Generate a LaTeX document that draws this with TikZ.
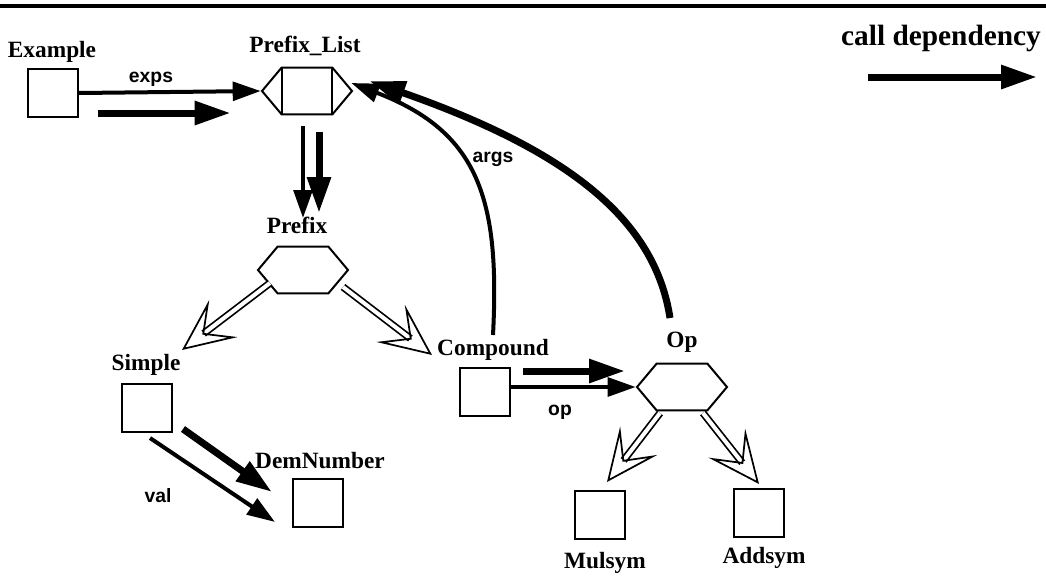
\documentclass[tikz,border=0pt]{standalone}
\usepackage{fontspec}
\setmainfont{Liberation Serif}
\setsansfont{Liberation Sans}
\usetikzlibrary{shapes.symbols,arrows.meta,positioning}

\begin{document}
\begin{tikzpicture}[
    x=0.75pt, y=-0.75pt,
    box/.style={rectangle, draw, line width=1.5pt, minimum width=37pt, minimum height=36pt, inner sep=0pt},
    hexa/.style={signal, signal to=west and east, signal pointer angle=100, draw, line width=1.5pt, minimum width=67.5pt, minimum height=35pt, inner sep=0pt},
    plistbox/.style={hexa, path picture={
        \draw[line width=1.5pt] ([xshift=15pt]path picture bounding box.north west) -- ([xshift=15pt]path picture bounding box.south west)
                                ([xshift=-15pt]path picture bounding box.north east) -- ([xshift=-15pt]path picture bounding box.south east);}},
    unitname/.style={font=\fontsize{17.5}{20}\selectfont\bfseries, anchor=base, inner sep=0pt},
    role/.style={font=\sffamily\bfseries\fontsize{14.5}{16}\selectfont, anchor=base, inner sep=0pt},
    link/.style={line width=3pt, -{Triangle[length=21pt,width=14pt]}},
    call/.style={line width=5.25pt, -{Triangle[length=27pt,width=17pt]}},
    isa/.style={double, line width=1.3pt, double distance=3pt, -{Stealth[open, length=39pt, width=35pt, inset=18pt]}}
]
\useasboundingbox (0,0) rectangle (1046,576);

% Rule
\draw[line width=3pt] (0,5.5) -- (1046,5.5);

% Legend
\node[unitname, font=\fontsize{22}{26}\selectfont\bfseries] (legend) at (941,45) {call dependency};
\coordinate (legS) at (868,77);
\coordinate (legE) at (1037,77);
\draw[call] (legS) -- (legE);

% Units
\node[box] (example) at (53,93) {};
\node[plistbox] (plist) at (307,91) {};
\node[hexa] (prefix) at (303,270) {};
\node[box] (simple) at (147,408) {};
\node[box] (demnum) at (318,503) {};
\node[box] (compound) at (485,392) {};
\node[hexa] (op) at (682,387) {};
\node[box] (mulsym) at (600,515) {};
\node[box] (addsym) at (759,513) {};

% Unit names
\node[unitname] (exampleName) at (52,57) {Example};
\node[unitname] (plistName) at (305,52) {Prefix\_List};
\node[unitname] (prefixName) at (297,233) {Prefix};
\node[unitname] (simpleName) at (146,370) {Simple};
\node[unitname] (demnumName) at (320,468) {DemNumber};
\node[unitname] (compoundName) at (493,355) {Compound};
\node[unitname] (opName) at (682,347) {Op};
\node[unitname] (mulsymName) at (605,568) {Mulsym};
\node[unitname] (addsymName) at (764,563) {Addsym};

% Component links
\draw[link] (example.east) -- (plist.west);
\draw[link] ([shift={(-4,11)}]plist.south) -- ([shift={(0,-52)}]prefix.center);
\draw[link] ([shift={(3,30)}]simple.center) -- ([shift={(-43,19)}]demnum.center);
\draw[link] (compound.east |- op.west) -- (op.west);
\draw[link] ([shift={(8,-57)}]compound.center) .. controls +(7,-135) and +(128,49) .. ([shift={(-2,-8)}]plist.east);

% Role labels
\node[role] (exps) at (151,82) {exps};
\node[role] (args) at (493,162) {args};
\node[role] (opRole) at (560,415) {op};
\node[role] (val) at (158,502) {val};

% Calls
\draw[call] ([shift={(45,20)}]example.center) -- ([shift={(-30,22)}]plist.west);
\draw[call] ([shift={(12,17)}]plist.south) -- ([shift={(16,-57)}]prefix.center);
\draw[call] ([shift={(36,21)}]simple.center) -- ([shift={(-46,-11)}]demnum.center);
\draw[call] ([shift={(38,-21)}]compound.center) -- ([shift={(-57,-16)}]op.center);
\draw[call] ([shift={(-12,-69)}]op.center) .. controls +(-15,-98) and +(200,70) .. ([shift={(16,-10)}]plist.east);

% Specialisations
\draw[isa] ([shift={(-33,13)}]prefix.center) -- ([shift={(35,-58)}]simple.center);
\draw[isa] ([shift={(40,17)}]prefix.center) -- ([shift={(-53,-37)}]compound.center);
\draw[isa] ([shift={(-22,26)}]op.center) -- ([shift={(7,-33)}]mulsym.center);
\draw[isa] ([shift={(21,26)}]op.center) -- ([shift={(0,-29)}]addsym.center);

\end{tikzpicture}
\end{document}
